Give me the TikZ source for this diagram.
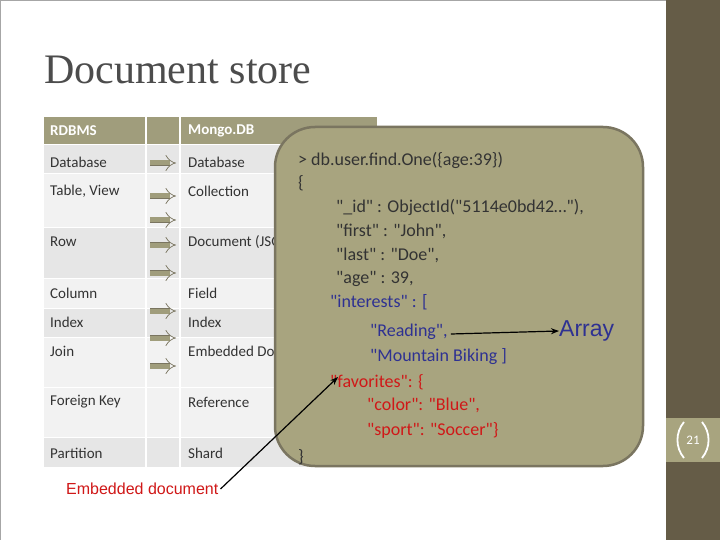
\documentclass[tikz,border=0pt]{standalone}
\usepackage{fontspec}
\setmainfont{Carlito}
\newfontfamily\codefont{Carlito}[Ligatures=TeXOff]
\newfontfamily\titlefont{Liberation Serif}
\newfontfamily\arialfont{Liberation Sans}
\usetikzlibrary{arrows.meta}
\newcommand\qq{\char34\relax}
\definecolor{olive}{HTML}{A8A47F}
\definecolor{oliveB}{HTML}{7A7560}
\definecolor{hdr}{HTML}{A09D7C}
\definecolor{darkstrip}{HTML}{655C47}
\definecolor{rowA}{HTML}{E6E6E6}
\definecolor{rowB}{HTML}{F2F2F2}
\definecolor{codeblue}{HTML}{2E3192}
\definecolor{codered}{HTML}{D01818}
\definecolor{codetext}{HTML}{333333}
\tikzset{x=1pt,y=-1pt,
 cell/.style={anchor=west,font=\fontsize{15}{17}\selectfont,text=black!80,inner sep=0pt},
 hcell/.style={anchor=west,font=\fontsize{15}{17}\selectfont\bfseries,text=white,inner sep=0pt},
 code/.style={anchor=west,font=\codefont\fontsize{18}{20}\selectfont,inner sep=0pt},
 dbl/.style={double=hdr,double distance=5pt,draw=oliveB,line width=0.7pt,-{Implies[length=8pt]}},
 blk/.style={draw=black,line width=1.2pt,-{Stealth[length=8pt]}}}
\begin{document}
\begin{tikzpicture}
\useasboundingbox (0,0) rectangle (720,540);
\fill[white] (0,0) rectangle (720,540);
\draw[gray!70,line width=1pt] (0.5,540) -- (0.5,0.5) -- (666,0.5);
\fill[darkstrip] (666,0) rectangle (720,540);
\fill[olive] (666,418) rectangle (720,462);
\node[font=\fontsize{13}{15}\selectfont,text=white] (pg) at (693,440) {21};
\draw[white,line width=1.8pt] (684,422) arc[start angle=140,end angle=220,radius=28pt];
\draw[white,line width=1.8pt] (702,422) arc[start angle=40,end angle=-40,radius=28pt];
\node[anchor=west,inner sep=0pt,font=\titlefont\fontsize{42}{46}\selectfont,text=black!70] (title) at (44,70) {Document store};
% table
\fill[hdr] (44,117) rectangle (377,145);
\foreach \a/\b/\c in {145/174/rowA,174/228/rowB,228/278/rowA,278/308/rowB,308/337/rowA,337/387/rowB,387/437/rowB,437/467/rowA}
  \fill[\c] (44,\a) rectangle (377,\b);
\foreach \yy in {145,174,228,278,308,337,387,437} \draw[white,line width=1pt] (44,\yy) -- (377,\yy);
\draw[white,line width=1.5pt] (146,117) -- (146,467) (180,117) -- (180,467);
\node[hcell] (h1) at (50,131) {RDBMS};
\node[hcell] (h2) at (188,131) {Mongo.DB};
\node[cell] (r1) at (50,162) {Database};      \node[cell] (m1) at (188,162) {Database};
\node[cell] (r2) at (50,191) {Table, View};   \node[cell] (m2) at (188,191) {Collection};
\node[cell] (r3) at (50,242) {Row};           \node[cell] (m3) at (188,242) {Document (JSON)};
\node[cell] (r4) at (50,293) {Column};        \node[cell] (m4) at (188,293) {Field};
\node[cell] (r5) at (50,322) {Index};         \node[cell] (m5) at (188,322) {Index};
\node[cell] (r6) at (50,351) {Join};          \node[cell] (m6) at (188,351) {Embedded Document};
\node[cell] (r7) at (50,402) {Foreign Key};   \node[cell] (m7) at (188,402) {Reference};
\node[cell] (r8) at (50,453) {Partition};     \node[cell] (m8) at (188,453) {Shard};
\foreach \i/\yy in {1/163,2/196,3/220,4/245,5/273,6/311,7/338,8/366} {
  \coordinate (as\i) at (150,\yy); \coordinate (ae\i) at (176,\yy);
  \draw[dbl] (as\i) -- (ae\i);}
% callout
\draw[fill=olive,draw=oliveB,line width=2.5pt,rounded corners=40pt] (275,127) rectangle (643,466);
\node[code,text=codetext] (c1) at (298,160) {> db.user.find.One(\{age:39\})};
\node[code,text=codetext] (c2) at (298,183) {\{};
\node[code,text=codetext] (c3) at (336,207) {\qq\_id\qq\ : ObjectId(\qq 5114e0bd42…\qq),};
\node[code,text=codetext] (c4) at (336,231) {\qq first\qq\ : \qq John\qq,};
\node[code,text=codetext] (c5) at (336,255) {\qq last\qq\ : \qq Doe\qq,};
\node[code,text=codetext] (c6) at (336,279) {\qq age\qq\ : 39,};
\node[code,text=codeblue] (c7) at (330,302) {\qq interests\qq\ : [};
\node[code,text=codeblue] (c8) at (370,332) {\qq Reading\qq,};
\node[code,text=codeblue] (c9) at (370,357) {\qq Mountain Biking ]};
\node[code,text=codered] (c10) at (330,382) {\qq favorites\qq: \{};
\node[code,text=codered] (c11) at (367,405) {\qq color\qq: \qq Blue\qq,};
\node[code,text=codered] (c12) at (367,430) {\qq sport\qq: \qq Soccer\qq\}};
\node[code,text=codetext] (c13) at (298,457) {\}};
\node[anchor=west,inner sep=0pt,text=codeblue,font=\arialfont\fontsize{23}{25}\selectfont] (arr) at (559,331) {Array};
\node[anchor=west,inner sep=0pt,text=codered,font=\arialfont\fontsize{16}{18}\selectfont] (emb) at (66,489) {Embedded document};
\draw[blk] (c8.east) ++(3,2) -- (arr.west);
\draw[blk] (emb.east) ++(2,0) -- (338,377);
\end{tikzpicture}
\end{document}
